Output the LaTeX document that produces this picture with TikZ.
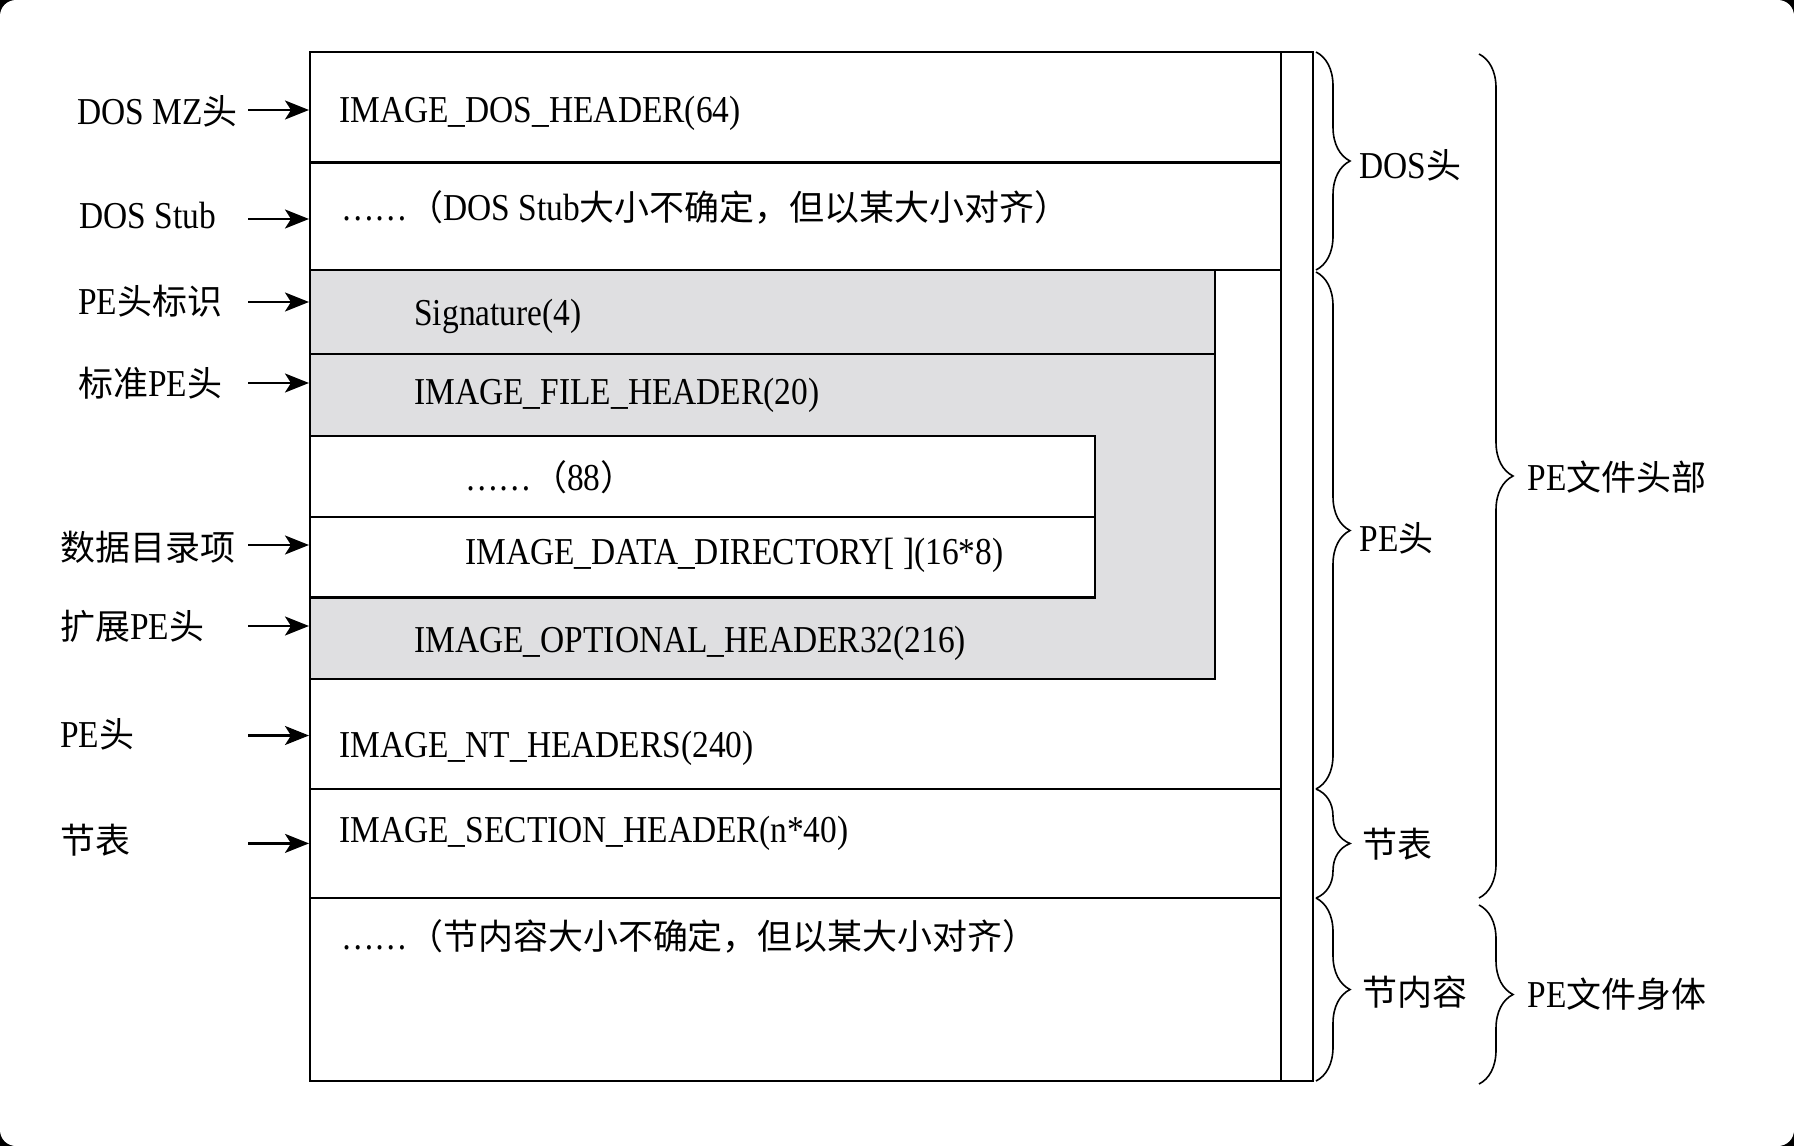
\documentclass[tikz,border=0pt]{standalone}
\usepackage{fontspec}
\setmainfont[FakeStretch=0.88]{Liberation Serif}
\newfontfamily\cjk[Scale=0.92]{Noto Sans CJK SC}
\newcommand\zh[1]{{\cjk #1}}
\usetikzlibrary{arrows.meta,decorations.pathreplacing}
\definecolor{hdrgray}{RGB}{223,223,225}
\tikzset{
  txt/.style={anchor=base west,inner sep=0pt,font=\fontsize{19pt}{22pt}\selectfont},
  arr/.style={line width=1.2pt,-{Stealth[length=12pt,width=9.5pt,inset=3pt]}},
  brc/.style={line width=0.8pt,decorate,decoration={brace,amplitude=17pt}},
  box/.style={line width=1.25pt},
}
\begin{document}
\begin{tikzpicture}[x=0.5pt,y=-0.5pt]
        \useasboundingbox (0,0) rectangle (1794,1146);
        \path[fill=black] (0,0) rectangle (1794,1146);
        \path[fill=white,rounded corners=8pt] (0,0) rectangle (1794,1146);

        % shaded PE header part
        \path[fill=hdrgray] (310,270) rectangle (1215,679);
        \path[fill=white] (310,436) rectangle (1095,597.5);

        % file layout
        \path[draw,box] (310,52) rectangle (1313,1081);
        \path[draw,box] (1281,52) -- (1281,1081);
        \path[draw,box] (310,162.6) -- (1281,162.6);
        \path[draw,box] (310,270) -- (1281,270);
        \path[draw,box] (310,789) -- (1281,789);
        \path[draw,box] (310,898) -- (1281,898);
        \path[draw,box] (310,270) rectangle (1215,679);
        \path[draw,box] (310,354) -- (1215,354);
        \path[draw,box] (310,436) rectangle (1095,597.5);
        \path[draw,box] (310,517) -- (1095,517);

        \node[txt] (doshdr) at (339,122.5) {IMAGE\_DOS\_HEADER(64)};
        \node[txt] (stub) at (341,220) {……\zh{（}DOS Stub\zh{大小不确定，但以某大小对齐）}};
        \node[txt] (sig) at (414,325) {Signature(4)};
        \node[txt] (filehdr) at (414,404) {IMAGE\_FILE\_HEADER(20)};
        \node[txt] (rest) at (465,490) {……\zh{（}88\zh{）}};
        \node[txt] (datadir) at (465,564) {IMAGE\_DATA\_DIRECTORY[ ](16*8)};
        \node[txt] (opthdr) at (414,652) {IMAGE\_OPTIONAL\_HEADER32(216)};
        \node[txt] (nthdr) at (339,757) {IMAGE\_NT\_HEADERS(240)};
        \node[txt] (sechdr) at (339,842) {IMAGE\_SECTION\_HEADER(n*40)};
        \node[txt] (secbody) at (341,949) {……\zh{（节内容大小不确定，但以某大小对齐）}};

        % names on the left
        \node[txt] (lmz) at (77,124) {DOS MZ\zh{头}};
        \node[txt] (lstub) at (79,228) {DOS Stub};
        \node[txt] (lsig) at (78,314) {PE\zh{头标识}};
        \node[txt] (lfile) at (78,396) {\zh{标准}PE\zh{头}};
        \node[txt] (ldir) at (60,560) {\zh{数据目录项}};
        \node[txt] (lopt) at (60,639) {\zh{扩展}PE\zh{头}};
        \node[txt] (lnt) at (60,747) {PE\zh{头}};
        \node[txt] (lsec) at (60,853) {\zh{节表}};

        \foreach \y/\n in {110/1,219/2,302/3,383/4,545/5,626/6,735.5/7,843.4/8}{
            \coordinate (as\n) at (248,\y);
            \coordinate (ae\n) at (309,\y);
            \draw[arr] (as\n) -- (ae\n);
        }

        % braces on the right
        \coordinate (bdos1) at (1316,52);
        \coordinate (bdos2) at (1316,270);
        \coordinate (bpe1) at (1316,272);
        \coordinate (bpe2) at (1316,789);
        \coordinate (bsec1) at (1316,789);
        \coordinate (bsec2) at (1316,898);
        \coordinate (bbody1) at (1316,898);
        \coordinate (bbody2) at (1316,1081);
        \coordinate (bhead1) at (1479,54);
        \coordinate (bhead2) at (1479,898);
        \coordinate (bfile1) at (1479,905);
        \coordinate (bfile2) at (1479,1084);
        \draw[brc] (bdos1) -- (bdos2);
        \draw[brc] (bpe1) -- (bpe2);
        \draw[brc] (bsec1) -- (bsec2);
        \draw[brc] (bbody1) -- (bbody2);
        \draw[brc] (bhead1) -- (bhead2);
        \draw[brc] (bfile1) -- (bfile2);

        \node[txt] (rdos) at (1359,178) {DOS\zh{头}};
        \node[txt] (rpe) at (1359,551) {PE\zh{头}};
        \node[txt] (rsec) at (1362,857) {\zh{节表}};
        \node[txt] (rbody) at (1362,1005) {\zh{节内容}};
        \node[txt] (rhead) at (1527,490) {PE\zh{文件头部}};
        \node[txt] (rfile) at (1527,1007) {PE\zh{文件身体}};
\end{tikzpicture}
\end{document}
